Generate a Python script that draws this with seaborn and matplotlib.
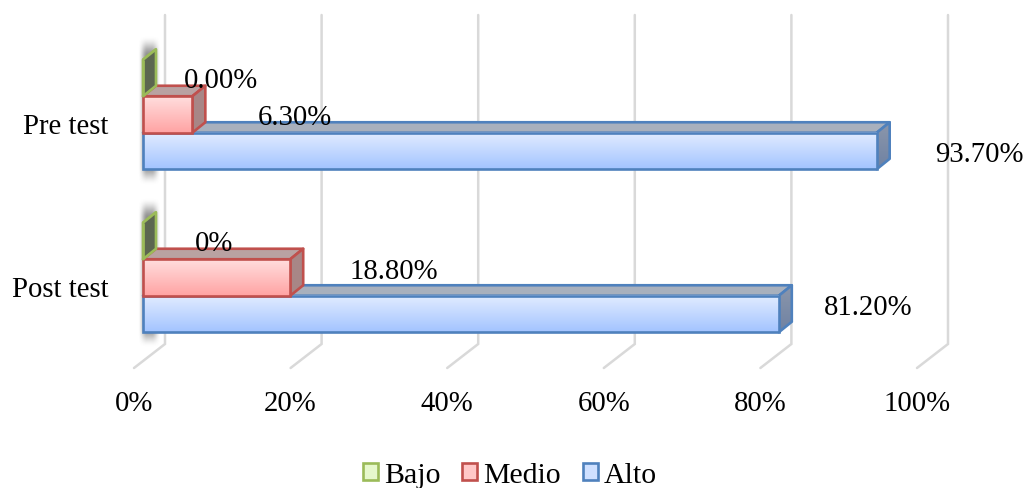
import numpy as np
import pandas as pd
import matplotlib
matplotlib.use("Agg")
import matplotlib.pyplot as plt
import matplotlib.transforms as mt
from matplotlib.colors import to_rgb
from matplotlib.patches import Patch, Polygon
import seaborn as sns

categories = ["Pre test", "Post test"]
levels = ["Bajo", "Medio", "Alto"]
bajo = [0.0, 0.0]
medio = [6.3, 18.8]
alto = [93.7, 81.2]
bajo_labels = ["0.00%", "0%"]
medio_labels = ["6.30%", "18.80%"]
alto_labels = ["93.70%", "81.20%"]
tick_values = [0, 20, 40, 60, 80, 100]
tick_labels = ["0%", "20%", "40%", "60%", "80%", "100%"]

sns.set_theme(style="white")
plt.rcParams["font.family"] = ["Liberation Serif", "DejaVu Serif"]
FS = 20.7

W, H = 1026, 489
L, R, T, B = 143, 926, 16, 369
PX_X = (R - L) / 100
PX_Y = 163.0
Y0 = 115.5
fig = plt.figure(figsize=(W / 100, H / 100), dpi=100)
ax = fig.add_axes([L / W, 1 - B / H, (R - L) / W, (B - T) / H])

df = pd.DataFrame({
    "cat": np.repeat(categories, 3),
    "level": levels * 2,
    "val": [v for i in range(2) for v in (bajo[i], medio[i], alto[i])],
})
edge = {"Bajo": "#9bbb59", "Medio": "#c0504d", "Alto": "#4f81bd"}
g_top = {"Bajo": "#f0fbdc", "Medio": "#ffdede", "Alto": "#e2ecff"}
g_bot = {"Bajo": "#d0ee9c", "Medio": "#ffa3a3", "Alto": "#a3c4ff"}
top_face = {"Bajo": "#6f7a5c", "Medio": "#b9a2a2", "Alto": "#a8b0bd"}
side_top = {"Bajo": "#5c6650", "Medio": "#a88686", "Alto": "#8c97ab"}
side_bot = {"Bajo": "#5c6650", "Medio": "#a88686", "Alto": "#6f82a3"}

sns.barplot(data=df, x="val", y="cat", hue="level", order=categories, hue_order=levels,
            orient="y", width=0.672, gap=0, dodge=True, legend=False,
            palette=edge, ax=ax)

ax.set_xlabel("")
ax.set_ylabel("")
for s in ax.spines.values():
    s.set_visible(False)
ax.patch.set_alpha(0)
ax.grid(False)

def py(y):
    return (y - Y0) / PX_Y

DX, DY = 13 / PX_X, -10.5 / PX_Y
LW = 1.9

# wall + floor gridlines
for v in tick_values:
    ax.plot([v + 22 / PX_X, v + 22 / PX_X, v - 9 / PX_X], [py(T), py(345), py(369)],
            color="#d9d9d9", lw=1.8, clip_on=False, zorder=1, solid_joinstyle="miter")

# soft shadow behind each category's bars
n = 80
yy, xx = np.mgrid[0:1:n * 1j, 0:1:n * 1j]
ramp_y = np.clip(np.minimum(yy, 1 - yy) / 0.14, 0, 1)
ramp_x = np.clip(np.minimum(xx, 1 - xx) / 0.40, 0, 1)
alpha = (ramp_y * ramp_y * (3 - 2 * ramp_y)) * (ramp_x * ramp_x * (3 - 2 * ramp_x))
shadow = np.zeros((n, n, 4))
shadow[..., :3] = 0.38
shadow[..., 3] = 0.72 * alpha
for i in range(2):
    ax.imshow(shadow, extent=[-5 / PX_X, 18 / PX_X, i + py(115.5 + 71), i + py(115.5 - 80)],
              aspect="auto", zorder=1.5, interpolation="bilinear", clip_on=False)

def grad(c1, c2):
    a, b = np.array(to_rgb(c1)), np.array(to_rgb(c2))
    return (a + (b - a) * np.linspace(0, 1, 64)[:, None])[:, None, :]

base = {"Alto": 3, "Medio": 4, "Bajo": 5}
for level, cont in zip(levels, ax.containers):
    z = base[level]
    for p in cont:
        x0, y0 = p.get_x(), p.get_y()
        w, h = p.get_width(), p.get_height()
        ya, yb = min(y0, y0 + h), max(y0, y0 + h)
        ec = edge[level]
        ax.add_patch(Polygon([(x0, ya), (x0 + DX, ya + DY), (x0 + w + DX, ya + DY), (x0 + w, ya)],
                             fc=top_face[level], ec=ec, lw=LW, zorder=z, clip_on=False, joinstyle="round"))
        side = Polygon([(x0 + w, ya), (x0 + w + DX, ya + DY), (x0 + w + DX, yb + DY), (x0 + w, yb)],
                       fc="none", ec=ec, lw=LW, zorder=z + 0.2, clip_on=False, joinstyle="round")
        ax.add_patch(side)
        im = ax.imshow(grad(side_top[level], side_bot[level]),
                       extent=[x0 + w, x0 + w + DX, yb, ya + DY], aspect="auto", zorder=z + 0.1)
        im.set_clip_path(side)
        if w > 0:
            ax.imshow(grad(g_top[level], g_bot[level]), extent=[x0, x0 + w, yb, ya],
                      aspect="auto", zorder=z + 0.3)
        p.set_facecolor("none")
        p.set_edgecolor(ec)
        p.set_linewidth(LW)
        p.set_zorder(z + 0.4)
        p.set_clip_on(False)

ax.set_xlim(0, 100)
ax.set_ylim((B - Y0) / PX_Y, (T - Y0) / PX_Y)

# ticks, shifted onto the 3D floor / side
ax.set_xticks(tick_values, tick_labels, fontsize=FS, color="black")
ax.set_yticks([0, 1], categories, fontsize=FS, color="black")
ax.tick_params(axis="x", length=0, pad=16)
ax.tick_params(axis="y", length=0, pad=25)
dpi_t = fig.dpi_scale_trans
for lab in ax.get_xticklabels():
    lab.set_transform(lab.get_transform() + mt.ScaledTranslation(-9 / 100, 0, dpi_t))
for lab in ax.get_yticklabels():
    lab.set_transform(lab.get_transform() + mt.ScaledTranslation(0, -8.5 / 100, dpi_t))

# data labels: offset in px from the end of each bar
offsets = {
    "Bajo": [(78, 81), (71, 244)],
    "Medio": [(103, 118), (104, 272)],
    "Alto": [(103, 155), (89, 308)],
}
texts = {"Bajo": bajo_labels, "Medio": medio_labels, "Alto": alto_labels}
vals = {"Bajo": bajo, "Medio": medio, "Alto": alto}
for level in levels:
    for i in range(2):
        ox, ypx = offsets[level][i]
        ax.text(vals[level][i] + ox / PX_X, py(ypx), texts[level][i], ha="center", va="center",
                fontsize=FS, color="black", zorder=10, clip_on=False)

handles = [Patch(facecolor=c, edgecolor=edge[l], linewidth=LW, label=l)
           for l, c in zip(levels, ["#e6f8cc", "#ffc8c8", "#cfe0ff"])]
fig.legend(handles=handles, loc="center", bbox_to_anchor=(510 / W, 1 - 476.5 / H), ncol=3, frameon=False,
           fontsize=21.5, labelcolor="black", handlelength=0.5, handleheight=0.5,
           handletextpad=0.2, columnspacing=0.73, borderpad=0, borderaxespad=0)

fig.savefig("out.png", dpi=100)
